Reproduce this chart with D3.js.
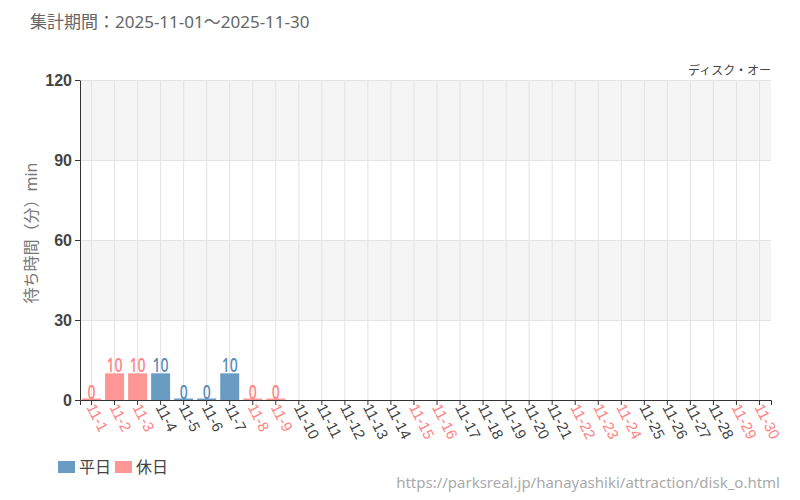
<!DOCTYPE html>
<html>
<head>
<meta charset="utf-8">
<script src="https://cdn.jsdelivr.net/npm/d3@7"></script>
<style>
  body { margin: 0; background: #fff; }
  svg { font-family: "Noto Sans", "Noto Sans CJK JP", sans-serif; }
  .axis path, .axis line { stroke: #333; }
</style>
</head>
<body>
<svg width="800" height="500"></svg>
<script>
const days     = d3.range(1, 31).map(d => "11-" + d);
const holidays = ["11-1", "11-2", "11-3", "11-8", "11-9", "11-15", "11-16",
                  "11-22", "11-23", "11-24", "11-29", "11-30"];
const waitDays = ["11-1", "11-2", "11-3", "11-4", "11-5", "11-6", "11-7", "11-8", "11-9"];
const waits    = [0, 10, 10, 10, 0, 0, 10, 0, 0];
const yTicks   = [0, 30, 60, 90, 120];

const BLUE = "#6a9bc3", PINK = "#ff9696",
      BLUE_TXT = "#5689b8", PINK_TXT = "#ff8282";

let svg    = d3.select("svg"),
    pLeft  = 80, pRight = 771, pTop = 80, pBottom = 400,
    x      = d3.scaleBand().domain(days).range([pLeft, pRight]),
    y      = d3.scaleLinear().domain([0, 120]).range([pBottom, pTop]),
    isHol  = d => holidays.includes(d);

// title
svg.append("text")
  .attr("x", 30).attr("y", 28)
  .attr("font-size", 17).attr("fill", "#666")
  .text("集計期間：2025-11-01～2025-11-30");

// alternating background bands
let bands = d3.pairs(yTicks);
svg.selectAll(".band")
  .data(bands)
  .enter().append("rect")
    .attr("x", pLeft)
    .attr("y", d => y(d[1]))
    .attr("width", pRight - pLeft)
    .attr("height", d => y(d[0]) - y(d[1]))
    .attr("fill", (d, i) => i % 2 ? "#f5f5f5" : "#fff");

// grid
svg.append("g")
  .attr("transform", `translate(0,${pBottom})`)
  .call(d3.axisBottom(x).tickSize(-(pBottom - pTop)).tickFormat(""))
  .call(g => g.select(".domain").remove())
  .selectAll("line").attr("stroke", "#e3e3e3");

svg.append("g")
  .attr("transform", `translate(${pLeft},0)`)
  .call(d3.axisLeft(y).tickValues(yTicks.slice(1)).tickSize(-(pRight - pLeft)).tickFormat(""))
  .call(g => g.select(".domain").remove())
  .selectAll("line").attr("stroke", "#e3e3e3");

// bars
let bw = 19;
svg.selectAll(".bar")
  .data(waitDays.map((d, i) => [d, waits[i]]))
  .enter().append("rect")
    .attr("class", "bar")
    .attr("x", d => x(d[0]) + (x.bandwidth() - bw) / 2)
    .attr("y", d => Math.min(y(d[1]), pBottom - 1.5))
    .attr("width", bw)
    .attr("height", d => Math.max(pBottom - y(d[1]), 1.5))
    .attr("fill", d => isHol(d[0]) ? PINK : BLUE);

// value labels, squeezed horizontally to look condensed
svg.selectAll(".val")
  .data(waitDays.map((d, i) => [d, waits[i]]))
  .enter().append("text")
    .attr("transform", d => `translate(${x(d[0]) + x.bandwidth() / 2},${y(d[1]) - 1.5}) scale(0.7,1)`)
    .attr("text-anchor", "middle")
    .attr("font-weight", 500)
    .attr("font-size", 20)
    .attr("fill", d => isHol(d[0]) ? PINK_TXT : BLUE_TXT)
    .text(d => d[1]);

// axes
let xAxis = svg.append("g")
  .attr("class", "axis")
  .attr("transform", `translate(0,${pBottom})`)
  .call(d3.axisBottom(x).tickSizeOuter(0).tickSize(5));
xAxis.selectAll("text")
  .attr("font-size", 15)
  .attr("fill", d => isHol(d) ? PINK_TXT : "#444")
  .attr("text-anchor", "start")
  .attr("transform", "translate(3,3) rotate(63)")
  .attr("dy", "0.35em")
  .attr("y", 4);

let yAxis = svg.append("g")
  .attr("class", "axis")
  .attr("transform", `translate(${pLeft},0)`)
  .call(d3.axisLeft(y).tickValues(yTicks).tickSize(5).tickSizeOuter(0));
yAxis.selectAll("text")
  .attr("font-size", 16)
  .attr("font-weight", 600)
  .attr("fill", "#444");

svg.append("text")
  .attr("transform", "translate(37,233) rotate(-90)")
  .attr("text-anchor", "middle")
  .attr("font-size", 16).attr("fill", "#777")
  .text("待ち時間（分）min");

// attraction name
svg.append("text")
  .attr("x", pRight).attr("y", 75)
  .attr("text-anchor", "end")
  .attr("font-size", 12).attr("fill", "#444")
  .text("ディスク・オー");

// legend
let legend = svg.append("g").attr("transform", "translate(58,461)");
[["平日", BLUE], ["休日", PINK]].forEach((d, i) => {
  let g = legend.append("g").attr("transform", `translate(${i * 57},0)`);
  g.append("rect").attr("width", 17).attr("height", 12).attr("fill", d[1]);
  g.append("text").attr("x", 21).attr("y", 12)
    .attr("font-size", 16).attr("fill", "#444").text(d[0]);
});

// source
svg.append("text")
  .attr("x", 780).attr("y", 488)
  .attr("text-anchor", "end")
  .attr("font-size", 15).attr("fill", "#aaa")
  .text("https://parksreal.jp/hanayashiki/attraction/disk_o.html");
</script>
</body>
</html>
